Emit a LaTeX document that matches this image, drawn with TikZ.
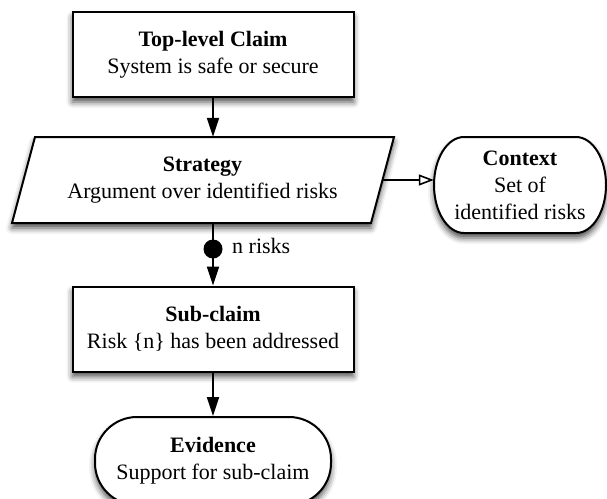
\documentclass[tikz,border=0pt]{standalone}
\usepackage{fontspec}
\setmainfont{Liberation Serif}
\usetikzlibrary{arrows.meta,shadows.blur}

\begin{document}
\begin{tikzpicture}[x=1pt,y=-1pt,
  txt/.style={font=\fontsize{22}{27}\selectfont, align=center},
  outline/.style={draw=black, line width=2pt, fill=white,
    blur shadow={shadow xshift=0pt, shadow yshift=-5pt, shadow blur radius=6pt, shadow opacity=70}},
  base/.style={txt, outline, inner sep=0pt},
  claim/.style={base, rectangle, minimum width=281pt, minimum height=85pt},
  textbox/.style={txt, inner sep=0pt},
  evidence/.style={base, rectangle, rounded corners=42pt, minimum width=236pt, minimum height=88pt},
  dotnode/.style={circle, fill=black, inner sep=0pt, minimum size=19pt},
  conn/.style={draw=black, line width=1.8pt, -{Triangle[length=19pt,width=12pt]}},
  ctxconn/.style={draw=black, line width=1.8pt, -{Triangle[open,length=15pt,width=11pt,line width=1.6pt]}},
  plain/.style={draw=black, line width=1.8pt}
]
\useasboundingbox (0,0) rectangle (607,498);

% strategy parallelogram and context outline with elliptical ends
\path[outline] (35,137) -- (394,137) -- (371,223) -- (12,223) -- cycle;
\path[outline] (464,137) -- (576,137)
  .. controls (592.6,137) and (606,158.5) .. (606,185)
  .. controls (606,211.5) and (592.6,233) .. (576,233) -- (464,233)
  .. controls (447.4,233) and (434,211.5) .. (434,185)
  .. controls (434,158.5) and (447.4,137) .. (464,137) -- cycle;

% goal structure nodes
\node[claim] (top) at (213,54.5) {\textbf{Top-level Claim}\\System is safe or secure};
\node[textbox, minimum width=360pt, minimum height=86pt] (strat) at (202.5,180)
  {\textbf{Strategy}\\Argument over identified risks};
\node[textbox, minimum width=172pt, minimum height=96pt] (ctx) at (520,185)
  {\textbf{Context}\\Set of\\identified risks};
\node[dotnode] (dot) at (213,249) {};
\node[txt, anchor=west, inner sep=0pt] (nrisks) at (232,246) {n risks};
\node[claim] (sub) at (213,329) {\textbf{Sub-claim}\\Risk \{n\} has been addressed};
\node[evidence] (ev) at (213,461) {\textbf{Evidence}\\Support for sub-claim};

% connectors
\draw[conn] (top.south) -- (top.south |- strat.north);
\draw[ctxconn] (strat.east) -- (strat.east -| ctx.west);
\draw[plain] (dot |- strat.south) -- (dot.center);
\draw[conn] (dot.center) -- (sub.north);
\draw[conn] (sub.south) -- (ev.north);
\end{tikzpicture}
\end{document}
